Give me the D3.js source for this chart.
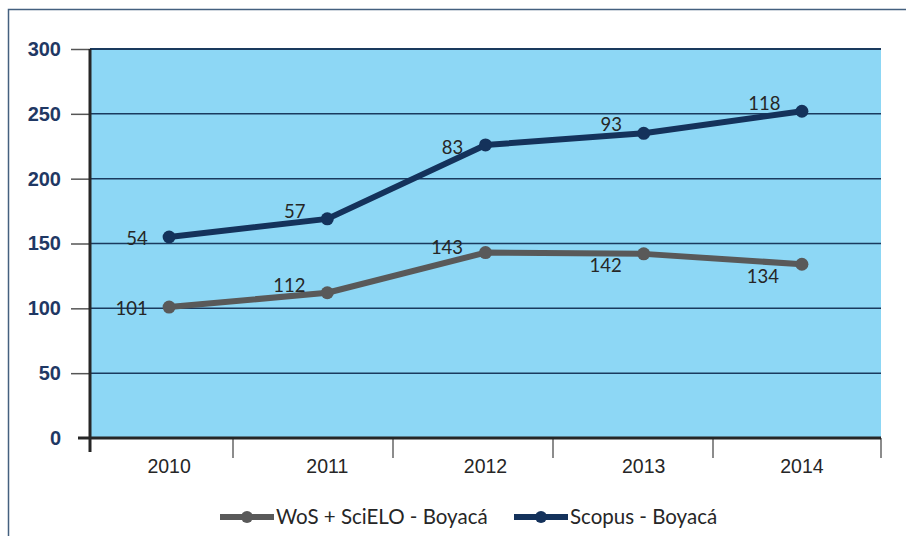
<!DOCTYPE html>
<html>
<head>
<meta charset="utf-8">
<script src="https://cdn.jsdelivr.net/npm/d3@7"></script>
<style>
  body { margin: 0; background: #fff; }
  svg { display: block; font-family: Lato, "Open Sans", sans-serif; }
</style>
</head>
<body>
<svg width="906" height="536"></svg>
<script>
var years = ['2010', '2011', '2012', '2013', '2014'];
var wos = [101, 112, 143, 142, 134];
var scopus = [54, 57, 83, 93, 118];
var yTicks = [0, 50, 100, 150, 200, 250, 300];
var seriesNames = ['WoS + SciELO - Boyacá', 'Scopus - Boyacá'];
var seriesColors = ['#595959', '#14325b'];

var svg = d3.select('svg');
var margin = {left: 90, right: 25, top: 49, bottom: 98};
var width = 906 - margin.left - margin.right;
var height = 536 - margin.top - margin.bottom;

// outer frame
svg.append('rect')
    .attr('x', 8.5).attr('y', 9.5)
    .attr('width', 920).attr('height', 560)
    .attr('fill', 'none')
    .attr('stroke', '#44607f')
    .attr('stroke-width', 1.5);

var g = svg.append('g').attr('transform', 'translate(' + margin.left + ',' + margin.top + ')');

var x = d3.scaleBand().domain(years).range([0, width]);
var y = d3.scaleLinear().domain([0, 300]).range([height, 0]);
// category separators sit a bit left of the band edges in the original
var xSep = d3.scaleLinear().domain([0, 5]).range([-17, 783]);

// stacked series
var rows = years.map(function(yr, i) { return {year: yr, wos: wos[i], scopus: scopus[i]}; });
var stack = d3.stack().keys(['wos', 'scopus'])(rows);

g.append('rect')
    .attr('width', width).attr('height', height)
    .attr('fill', '#8dd7f5');

// gridlines
g.append('g')
    .selectAll('line')
    .data(yTicks.filter(function(d) { return d > 0; }))
    .enter().append('line')
    .attr('x1', 0).attr('x2', width)
    .attr('y1', function(d) { return y(d); })
    .attr('y2', function(d) { return y(d); })
    .attr('stroke', '#1a3a5e')
    .attr('stroke-width', function(d) { return d === 300 ? 2 : 1.5; });

// y axis
var yAxis = g.append('g')
    .call(d3.axisLeft(y).tickValues(yTicks).tickSize(19).tickPadding(10));
yAxis.select('.domain').remove();
yAxis.selectAll('.tick line')
    .attr('stroke', '#555').attr('stroke-width', 1.5)
    .attr('display', function(d) { return d === 0 ? 'none' : null; });
yAxis.selectAll('.tick text')
    .attr('fill', '#1f3864')
    .style('font-size', '20px')
    .style('font-weight', 'bold');

g.append('line')
    .attr('x1', 0).attr('x2', 0)
    .attr('y1', 0).attr('y2', height + 14)
    .attr('stroke', '#262626').attr('stroke-width', 3);

// x axis
var xAxis = g.append('g')
    .attr('transform', 'translate(0,' + height + ')')
    .call(d3.axisBottom(x).tickSize(0).tickPadding(21));
xAxis.select('.domain').remove();
xAxis.selectAll('.tick text').attr('fill', '#262626').style('font-size', '19.5px');

xAxis.selectAll('.sep')
    .data([1, 2, 3, 4])
    .enter().append('line')
    .attr('x1', function(d) { return xSep(d); })
    .attr('x2', function(d) { return xSep(d); })
    .attr('y1', 0).attr('y2', 20)
    .attr('stroke', '#666').attr('stroke-width', 1.5);
xAxis.append('line')
    .attr('x1', width).attr('x2', width)
    .attr('y1', 0).attr('y2', 20)
    .attr('stroke', '#666').attr('stroke-width', 1.5);

xAxis.append('line')
    .attr('x1', -12).attr('x2', width)
    .attr('stroke', '#262626').attr('stroke-width', 3);

// lines
var cx = function(d) { return x(d.data.year) + x.bandwidth() / 2; };
var line = d3.line().x(cx).y(function(d) { return y(d[1]); });

stack.forEach(function(s, k) {
    g.append('path')
        .datum(s)
        .attr('d', line)
        .attr('fill', 'none')
        .attr('stroke', seriesColors[k])
        .attr('stroke-width', 6)
        .attr('stroke-linejoin', 'round');
    g.selectAll('.pt' + k)
        .data(s)
        .enter().append('circle')
        .attr('cx', cx)
        .attr('cy', function(d) { return y(d[1]); })
        .attr('r', 6.5)
        .attr('fill', seriesColors[k]);
});

// data labels (offset from the point, to the text baseline)
var labelOffsets = [
    [[-37.5, 8], [-38, -1], [-38.5, 1], [-38, 18], [-39, 19]],
    [[-32, 8], [-32.5, -1], [-33, 9], [-32.5, -2], [-37.5, -1]]
];
stack.forEach(function(s, k) {
    g.selectAll('.lbl' + k)
        .data(s)
        .enter().append('text')
        .attr('x', function(d, i) { return cx(d) + labelOffsets[k][i][0]; })
        .attr('y', function(d, i) { return y(d[1]) + labelOffsets[k][i][1]; })
        .attr('text-anchor', 'middle')
        .attr('fill', '#262626')
        .style('font-size', '18.5px')
        .text(function(d) { return d[1] - d[0]; });
});

// legend
var legendX = [220, 514];
var legend = svg.append('g');
seriesNames.forEach(function(name, k) {
    var lg = legend.append('g').attr('transform', 'translate(' + legendX[k] + ',517)');
    lg.append('line').attr('x1', 0).attr('x2', 54)
        .attr('stroke', seriesColors[k]).attr('stroke-width', 6);
    lg.append('circle').attr('cx', 27).attr('r', 6).attr('fill', seriesColors[k]);
    lg.append('text').attr('x', 56).attr('y', 6.5)
        .attr('fill', '#262626')
        .style('font-size', '20.5px')
        .text(name);
});
</script>
</body>
</html>
